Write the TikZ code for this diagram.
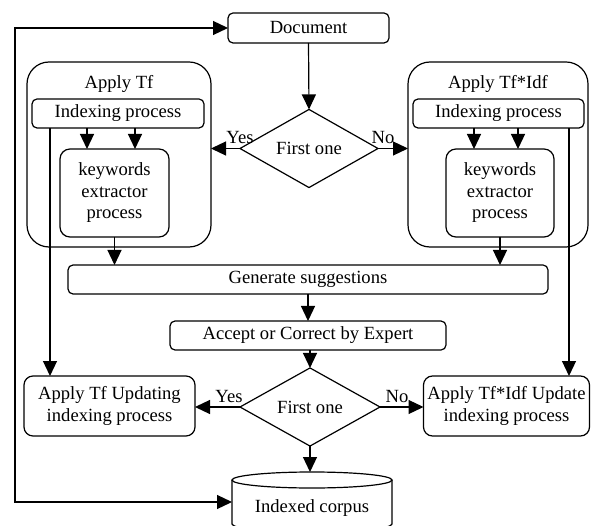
\documentclass[tikz,border=0pt]{standalone}
\usepackage{fontspec}
\setmainfont{Liberation Serif}
\usetikzlibrary{shapes.geometric,arrows.meta}
\begin{document}
\begin{tikzpicture}[x=1pt,y=-1pt,
  every node/.style={font=\fontsize{18.6}{21.5}\selectfont, inner sep=0pt, outer sep=0pt},
  line/.style={line width=1.2pt},
  arr/.style={line, -{Triangle[width=14pt,length=15pt]}},
  dblarr/.style={line, {Triangle[width=14pt,length=15pt]}-{Triangle[width=14pt,length=15pt]}},
  procbox/.style={draw, line width=1.2pt, rounded corners=5pt, align=center},
  keybox/.style={draw, line width=1.2pt, rounded corners=10pt, align=center},
  groupbox/.style={draw, line width=1.2pt, rounded corners=22pt},
  updbox/.style={draw, line width=1.2pt, rounded corners=9pt, align=center},
  decision/.style={draw, line width=1.2pt, diamond},
  answer/.style={anchor=base}
]
\useasboundingbox (0,0) rectangle (591,526);

% top document
\node[procbox, minimum width=161pt, minimum height=30pt] (doc) at (308.5,28) {Document};

% first decision
\node[decision, minimum width=138pt, minimum height=59pt] (dia1) at (309,148.5) {First one};

% left group: Apply Tf
\node[groupbox, minimum width=184pt, minimum height=185pt] (tfbox) at (119,154.5) {};
\node (tflabel) at (119,84) {Apply Tf};
\node[procbox, minimum width=172pt, minimum height=29pt] (idx1) at (118,113.5) {Indexing process};
\node[keybox, minimum width=109pt, minimum height=88pt] (kw1) at (114.5,193) {keywords\\extractor\\process};

% right group: Apply Tf*Idf
\node[groupbox, minimum width=180pt, minimum height=185pt] (idfbox) at (498,154.5) {};
\node (idflabel) at (498,84) {Apply Tf*Idf};
\node[procbox, minimum width=171pt, minimum height=29pt] (idx2) at (498.5,113.5) {Indexing process};
\node[keybox, minimum width=108pt, minimum height=88pt] (kw2) at (500,193) {keywords\\extractor\\process};

% middle chain
\node[procbox, minimum width=480pt, minimum height=29pt] (gen) at (308,279.5) {Generate suggestions};
\node[procbox, minimum width=276pt, minimum height=29pt] (acc) at (308,335.5) {Accept or Correct by Expert};
\node[decision, minimum width=140pt, minimum height=60pt] (dia2) at (310,407) {First one};

% update processes
\node[updbox, minimum width=171pt, minimum height=60pt] (upd1) at (109.5,406) {Apply Tf Updating\\indexing process};
\node[updbox, minimum width=166pt, minimum height=60pt] (upd2) at (506.5,406) {Apply Tf*Idf Update\\indexing process};

% indexed corpus (cylinder)
\node[minimum width=160pt, minimum height=60pt] (cyl) at (312,502) {};
\draw[line] (cyl.north west) ++(0,8) -- ++(0,44)
  arc[start angle=180, end angle=360, x radius=80pt, y radius=8pt] -- ++(0,-44);
\draw[line] (312,480) ellipse [x radius=80pt, y radius=8pt];
\node (cyltext) at (312,508) {Indexed corpus};

% connectors
\draw[arr] (doc.south) -- (dia1.north);
\draw[arr] (dia1.west) -- (tfbox.east |- dia1.west);
\draw[arr] (dia1.east) -- (idfbox.west |- dia1.east);
\node[answer] (yes1) at ([xshift=0pt,yshift=5pt]dia1.west) {Yes};
\node[answer] (no1) at ([xshift=5pt,yshift=5pt]dia1.east) {No};

\draw[arr] ([xshift=-31pt]idx1.south) -- ([xshift=-31pt]idx1.south |- kw1.north);
\draw[arr] ([xshift=17pt]idx1.south) -- ([xshift=17pt]idx1.south |- kw1.north);
\draw[arr] ([xshift=-24.5pt]idx2.south) -- ([xshift=-24.5pt]idx2.south |- kw2.north);
\draw[arr] ([xshift=19.5pt]idx2.south) -- ([xshift=19.5pt]idx2.south |- kw2.north);

\draw[arr] (kw1.south) -- (kw1.south |- gen.north);
\draw[arr] (kw2.south) -- (kw2.south |- gen.north);

\draw[arr] ([xshift=-68pt]idx1.south) -- ([xshift=-68pt]idx1.south |- upd1.north);
\draw[arr] ([xshift=70.5pt]idx2.south) -- ([xshift=70.5pt]idx2.south |- upd2.north);

\draw[arr] (gen.south) -- (gen.south |- acc.north);
\draw[arr] (acc.south -| dia2.north) -- (dia2.north);
\draw[arr] (dia2.west) -- (upd1.east |- dia2.west);
\draw[arr] (dia2.east) -- (upd2.west |- dia2.east);
\node[answer] (yes2) at ([xshift=-11pt,yshift=5pt]dia2.west) {Yes};
\node[answer] (no2) at ([xshift=17pt,yshift=5pt]dia2.east) {No};
\draw[arr] (dia2.south) -- (dia2.south |- cyl.north);

% feedback loop on the left
\coordinate (loopx) at (15,0);
\draw[dblarr] (doc.west) -- (doc.west -| loopx) -- (cyl.west -| loopx) -- (cyl.west);
\end{tikzpicture}
\end{document}
